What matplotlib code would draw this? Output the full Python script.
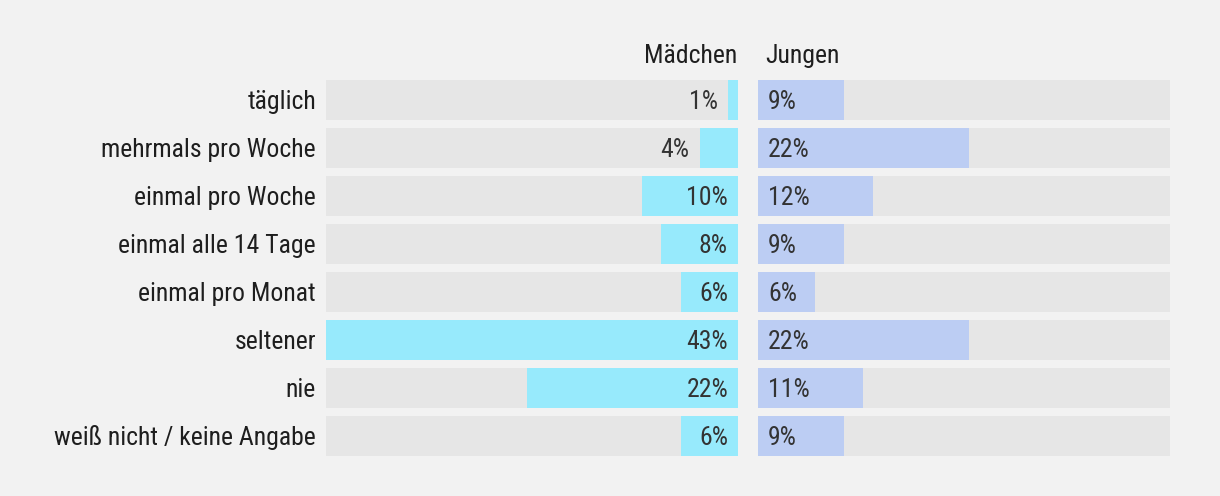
import matplotlib
matplotlib.use("Agg")
import matplotlib.pyplot as plt
from matplotlib import font_manager as fm

categories = ["täglich", "mehrmals pro Woche", "einmal pro Woche", "einmal alle 14 Tage",
              "einmal pro Monat", "seltener", "nie", "weiß nicht / keine Angabe"]
maedchen = [1, 4, 10, 8, 6, 43, 22, 6]
jungen = [9, 22, 12, 9, 6, 22, 11, 9]
headers = ["Mädchen", "Jungen"]

names = sorted({f.name for f in fm.fontManager.ttflist})
fam = "Roboto Condensed" if "Roboto Condensed" in names else "Roboto"
plt.rcParams['font.family'] = [fam, 'DejaVu Sans']

BG = "#f2f2f2"
TRACK = "#e6e6e6"
C_M = "#97eafc"
C_J = "#bccdf3"
TXT = "#1e1e1e"
VTXT = "#333333"
W, H = 1220, 496
fig = plt.figure(figsize=(W/100, H/100), dpi=100, facecolor=BG)

top, bottom = 76, 460
axL = fig.add_axes([326/W, (H-bottom)/H, 412/W, (bottom-top)/H])
axR = fig.add_axes([758/W, (H-bottom)/H, 412/W, (bottom-top)/H])
vmax = 43
n = len(categories)
bh = 40/48
for ax in (axL, axR):
    ax.set_facecolor(BG)
    ax.set_ylim(n-0.5, -0.5)
    for s in ax.spines.values():
        s.set_visible(False)
    ax.set_xticks([]); ax.set_yticks([])
    ax.barh(range(n), [vmax]*n, height=bh, color=TRACK)
axL.set_xlim(vmax, 0)
axR.set_xlim(0, vmax)

axL.barh(range(n), maedchen, height=bh, color=C_M)
axR.barh(range(n), jungen, height=bh, color=C_J)

fs = 18.5
pxu = vmax/412
dy = 2/48
for i, v in enumerate(maedchen):
    if v*412/vmax > 50:
        axL.text(10*pxu, i+dy, f"{v}%", ha="right", va="center", fontsize=fs, color=VTXT)
    else:
        axL.text(v + 10*pxu, i+dy, f"{v}%", ha="right", va="center", fontsize=fs, color=VTXT)
for i, v in enumerate(jungen):
    axR.text(10*pxu, i+dy, f"{v}%", ha="left", va="center", fontsize=fs, color=VTXT)
for i, c in enumerate(categories):
    axL.text(vmax + 10*pxu, i+dy, c, ha="right", va="center", fontsize=fs, color=TXT)

fig.text(737/W, (H-56)/H, headers[0], ha="right", va="center", fontsize=fs, color=TXT)
fig.text(765/W, (H-56)/H, headers[1], ha="left", va="center", fontsize=fs, color=TXT)

fig.savefig("out.png", dpi=100, facecolor=BG)
